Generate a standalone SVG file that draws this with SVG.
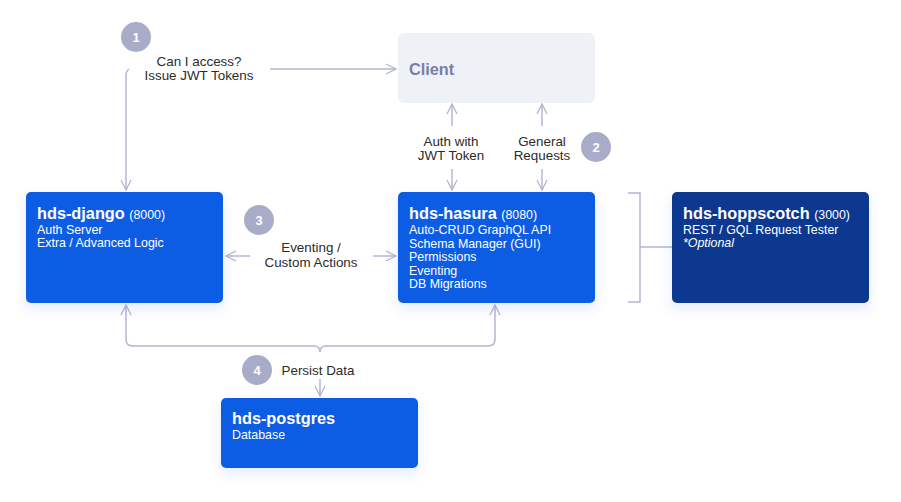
<svg xmlns="http://www.w3.org/2000/svg" width="901" height="502" viewBox="0 0 901 502">
<defs>
<filter id="sh" x="-20%" y="-20%" width="140%" height="160%">
<feDropShadow dx="0" dy="6" stdDeviation="6" flood-color="#2a5de0" flood-opacity="0.12"/>
</filter>
<marker id="ah" viewBox="0 0 12 12" refX="11" refY="6" markerWidth="12" markerHeight="12" markerUnits="userSpaceOnUse" orient="auto">
<path d="M1,1 L11,6 L1,11" fill="none" stroke="#b3b6d2" stroke-width="1.3"/>
</marker>
<style>
.t{font-family:"Liberation Sans",Arial,sans-serif;}
.title{font-size:16.3px;font-weight:bold;fill:#fff;}
.port{font-size:12.4px;font-weight:normal;fill:#fff;}
.body{font-size:12.4px;fill:#fff;}
.lbl{font-size:13.4px;fill:#2b2b2b;text-anchor:middle;}
.c{fill:#a9acc8;}
.cn{font-size:13px;font-weight:bold;fill:#fff;text-anchor:middle;}
.ln{fill:none;stroke:#b3b6d2;stroke-width:1.5;}
.blue{fill:#0d5de4;}
.dark{fill:#08388f;}
</style>
</defs>
<rect width="901" height="502" fill="#fff"/>

<g id="connectors">
<path class="ln" d="M129,69 Q126,71 126,76 L126,190" marker-end="url(#ah)"/>
<path class="ln" d="M270,69 L396,69" marker-end="url(#ah)"/>
<path class="ln" d="M452,126 L452,104" marker-end="url(#ah)"/>
<path class="ln" d="M452,169 L452,190" marker-end="url(#ah)"/>
<path class="ln" d="M542,126 L542,104" marker-end="url(#ah)"/>
<path class="ln" d="M542,169 L542,190" marker-end="url(#ah)"/>
<path class="ln" d="M250,256 L226,256" marker-end="url(#ah)"/>
<path class="ln" d="M373,256 L396,256" marker-end="url(#ah)"/>
<path class="ln" d="M628,193 L640,193 L640,302 L628,302 M640,247 L672,247"/>
<path class="ln" d="M320,352 Q320,346 314,346 L133,346 Q126,346 126,339 L126,305" marker-end="url(#ah)"/>
<path class="ln" d="M320,352 Q320,346 326,346 L488,346 Q495,346 495,339 L495,305" marker-end="url(#ah)"/>
<path class="ln" d="M320,379 L320,396" marker-end="url(#ah)"/>
</g>

<g id="client">
<rect x="398" y="33" width="197" height="70" rx="6" fill="#eef2f7"/>
<text class="t" x="409" y="75" font-size="16.3" font-weight="bold" fill="#7a7ea4">Client</text>
</g>

<g id="django">
<rect x="26" y="192" width="197" height="111" rx="5" class="blue" filter="url(#sh)"/>
<text class="t title" x="37" y="219">hds-django <tspan class="port">(8000)</tspan></text>
<text class="t body" x="37" y="234">Auth Server</text>
<text class="t body" x="37" y="247">Extra / Advanced Logic</text>
</g>

<g id="hasura">
<rect x="398" y="192" width="197" height="111" rx="5" class="blue" filter="url(#sh)"/>
<text class="t title" x="409" y="219">hds-hasura <tspan class="port">(8080)</tspan></text>
<text class="t body" x="409" y="234">Auto-CRUD GraphQL API</text>
<text class="t body" x="409" y="247.5">Schema Manager (GUI)</text>
<text class="t body" x="409" y="261">Permissions</text>
<text class="t body" x="409" y="274.5">Eventing</text>
<text class="t body" x="409" y="288">DB Migrations</text>
</g>

<g id="hoppscotch">
<rect x="672" y="192" width="197" height="111" rx="5" class="dark" filter="url(#sh)"/>
<text class="t title" x="683" y="219">hds-hoppscotch <tspan class="port">(3000)</tspan></text>
<text class="t body" x="683" y="234">REST / GQL Request Tester</text>
<text class="t body" x="683" y="247" font-style="italic">*Optional</text>
</g>

<g id="postgres">
<rect x="221" y="398" width="197" height="70" rx="5" class="blue" filter="url(#sh)"/>
<text class="t title" x="232" y="424">hds-postgres</text>
<text class="t body" x="232" y="439">Database</text>
</g>

<g id="labels">
<text class="t lbl" x="199" y="66">Can I access?</text>
<text class="t lbl" x="199" y="80">Issue JWT Tokens</text>
<text class="t lbl" x="451" y="146">Auth with</text>
<text class="t lbl" x="451" y="160">JWT Token</text>
<text class="t lbl" x="542" y="146">General</text>
<text class="t lbl" x="542" y="160">Requests</text>
<text class="t lbl" x="311" y="252">Eventing /</text>
<text class="t lbl" x="311" y="267">Custom Actions</text>
<text class="t lbl" x="318" y="375">Persist Data</text>
</g>

<g id="step1"><circle class="c" cx="136" cy="37" r="15"/><text class="t cn" x="136" y="41.5">1</text></g>
<g id="step2"><circle class="c" cx="596" cy="147" r="15"/><text class="t cn" x="596" y="151.5">2</text></g>
<g id="step3"><circle class="c" cx="259" cy="220" r="15"/><text class="t cn" x="259" y="224.5">3</text></g>
<g id="step4"><circle class="c" cx="257" cy="370" r="15"/><text class="t cn" x="257" y="374.5">4</text></g>
</svg>
